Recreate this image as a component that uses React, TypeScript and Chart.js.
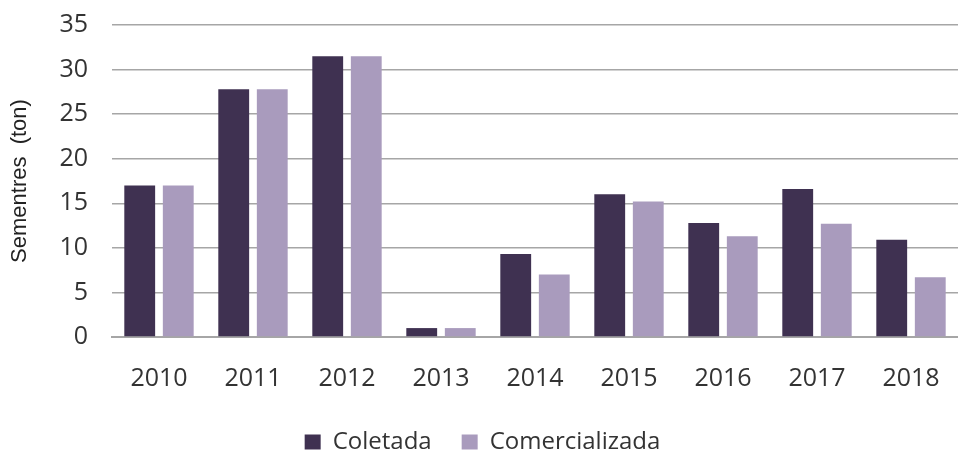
import React, { useEffect, useRef } from "react";
import { Chart, registerables } from "chart.js";

Chart.register(...registerables);

const categories = ["2010", "2011", "2012", "2013", "2014", "2015", "2016", "2017", "2018"];
const coletada = [17, 27.8, 31.5, 1.0, 9.3, 16.0, 12.8, 16.6, 10.9];
const comercializada = [17, 27.8, 31.5, 1.0, 7.0, 15.2, 11.3, 12.7, 6.7];
const yTicks = [0, 5, 10, 15, 20, 25, 30, 35];

const FONT = "'Open Sans', sans-serif";

export default function App() {
  const ref = useRef<HTMLCanvasElement>(null);
  useEffect(() => {
    document.body.style.margin = "0";
    const chart = new Chart(ref.current!, {
      type: "bar",
      data: {
        labels: categories,
        datasets: [
          { label: "Coletada", data: coletada, backgroundColor: "#3F3151", barPercentage: 0.8, categoryPercentage: 0.82 },
          { label: "Comercializada", data: comercializada, backgroundColor: "#A99BBD", barPercentage: 0.8, categoryPercentage: 0.82 },
        ],
      },
      options: {
        animation: false,
        responsive: false,
        layout: { padding: { top: 0, right: 0, left: 7, bottom: -9 } },
        plugins: {
          legend: {
            position: "bottom",
            labels: {
              boxWidth: 16,
              boxHeight: 15,
              padding: 30,
              color: "#333",
              font: { family: FONT, size: 24 },
            },
          },
          tooltip: { enabled: false },
        },
        scales: {
          x: {
            grid: { display: false, drawTicks: false },
            border: { color: "#A6A6A6", width: 2 },
            ticks: { color: "#333", font: { family: FONT, size: 25 }, padding: 27 },
            afterFit: (s: any) => { s.height = 63; s.paddingLeft = 0; s.paddingRight = 0; },
          },
          y: {
            min: 0,
            max: 35,
            afterBuildTicks: (s: any) => { s.ticks = yTicks.map((v) => ({ value: v })); },
            afterFit: (s: any) => { s.paddingTop = 25; s.paddingBottom = 0; },
            grid: { color: "#A6A6A6", lineWidth: 1.5, drawTicks: false },
            border: { display: false },
            ticks: { color: "#333", font: { family: FONT, size: 25 }, padding: 24 },
            title: {
              display: true,
              text: "Sementres  (ton)",
              color: "#222",
              font: { family: "'Liberation Sans', Arial, sans-serif", size: 22 },
              padding: { top: 0, bottom: 2 },
            },
          },
        },
      },
    });
    return () => chart.destroy();
  }, []);
  return <canvas ref={ref} width={958} height={455} style={{ display: "block" }} />;
}
